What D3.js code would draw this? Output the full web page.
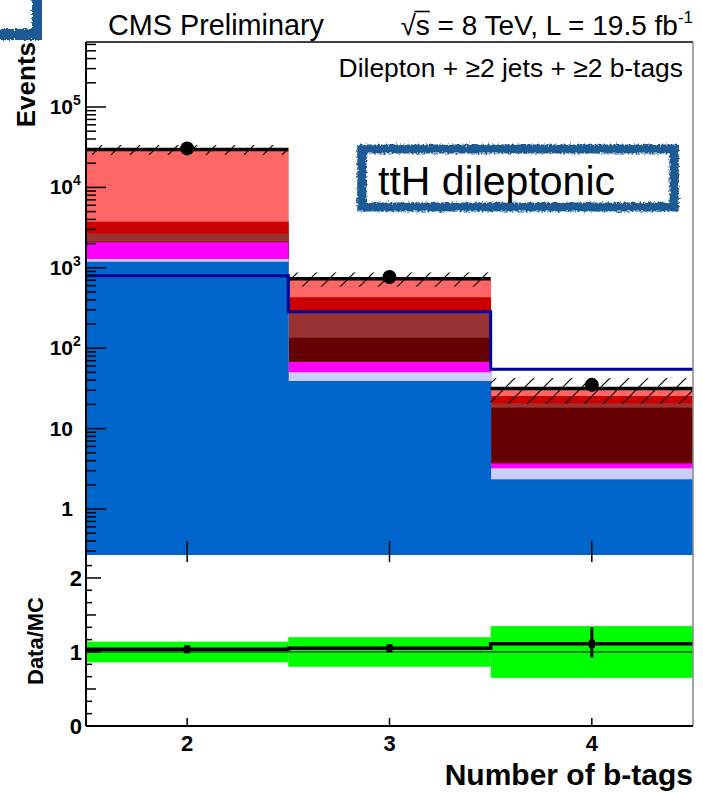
<!DOCTYPE html>
<html>
<head>
<meta charset="utf-8">
<script src="https://cdn.jsdelivr.net/npm/d3@7"></script>
<style>
  html, body { margin: 0; padding: 0; background: #fff; }
  svg { display: block; }
  text { font-family: "Liberation Sans", Arial, Helvetica, sans-serif; fill: #000; }
</style>
</head>
<body>
<svg id="chart" width="703" height="793"></svg>
<script>
// ---- data: b-tag multiplicity, dilepton channel ----
const binCenters = [2, 3, 4];

// background components, events per bin (stacked bottom to top)
const bgEwk       = [1190, 39.1, 2.34];
const bgTtV       = [96, 11.1, 0.87];
const bgSingleTop = [794, 17.2, 0.49];
const bgTtbb      = [30, 67.6, 14.5];
const bgTtb       = [550, 147, 2.4];
const bgTtcc      = [1080, 148, 4.8];
const bgTtlf      = [25760, 300, 6.1];

// scaled ttH signal, drawn as an outline
const signalScaled = [798, 284, 54.7];

// observed events and Poisson errors
const dataCounts  = [30560, 767, 35];
const dataErrUp   = [175, 28.7, 6.97];
const dataErrDown = [175, 27.7, 5.88];

// relative systematic uncertainty on the total background
const mcRelUnc = [0.14, 0.20, 0.35];

// axis tick definitions
const yExponents   = [0, 1, 2, 3, 4, 5];
const ratioMajor   = [0, 1, 2];
const xTickLabels  = ["2", "3", "4"];

const keys = ["ewk", "ttV", "singleTop", "ttbb", "ttb", "ttcc", "ttlf"];
const colors = {
  ewk: "#0066cc", ttV: "#ccccff", singleTop: "#ff00ff", ttbb: "#660000",
  ttb: "#993333", ttcc: "#cc0000", ttlf: "#ff6666"
};

// ---- layout ----
const L = 86, R = 693, TOP = 42, MID = 555, BOT = 726;
const svg = d3.select("#chart");

const x  = d3.scaleLinear().domain([1.5, 4.5]).range([L, R]);
const y  = d3.scaleLog().domain([0.268, 6.43e5]).range([MID, TOP]);
const yr = d3.scaleLinear().domain([0, 2.31]).range([BOT, MID]);

const defs = svg.append("defs");
defs.append("clipPath").attr("id", "clipMain")
  .append("rect").attr("x", L).attr("y", TOP).attr("width", R - L).attr("height", MID - TOP);
defs.append("clipPath").attr("id", "clipRatio")
  .append("rect").attr("x", L).attr("y", MID).attr("width", R - L).attr("height", BOT - MID);

const hatch = defs.append("pattern").attr("id", "hatch")
  .attr("patternUnits", "userSpaceOnUse").attr("width", 19).attr("height", 19);
hatch.append("path").attr("d", "M-2,2 L2,-2 M0,19 L19,0 M17,21 L21,17")
  .attr("stroke", "#000").attr("stroke-width", 1.2);

const brush = defs.append("filter").attr("id", "brush")
  .attr("x", "-10%").attr("y", "-30%").attr("width", "120%").attr("height", "160%");
brush.append("feTurbulence").attr("type", "fractalNoise")
  .attr("baseFrequency", "0.5 0.5").attr("numOctaves", 2).attr("seed", 7).attr("result", "noise");
brush.append("feDisplacementMap").attr("in", "SourceGraphic").attr("in2", "noise")
  .attr("scale", 6).attr("xChannelSelector", "R").attr("yChannelSelector", "G");

// ---- stacked backgrounds ----
const rows = binCenters.map((c, i) => ({
  bin: c, ewk: bgEwk[i], ttV: bgTtV[i], singleTop: bgSingleTop[i],
  ttbb: bgTtbb[i], ttb: bgTtb[i], ttcc: bgTtcc[i], ttlf: bgTtlf[i]
}));
const series = d3.stack().keys(keys)(rows);
const totals = rows.map(r => keys.reduce((s, k) => s + r[k], 0));

const main = svg.append("g").attr("clip-path", "url(#clipMain)");

// paint from the top layer down, each block reaching to the panel floor;
// a small overlap keeps neighbouring bins seamless
series.slice().reverse().forEach(s => {
  main.append("g").selectAll("rect").data(s).join("rect")
    .attr("x", d => x(d.data.bin - 0.5) - 0.4)
    .attr("width", d => x(d.data.bin + 0.5) - x(d.data.bin - 0.5) + 0.8)
    .attr("y", d => y(d[1]))
    .attr("height", d => MID - y(d[1]))
    .attr("fill", colors[s.key]);
});

// background uncertainty band
main.append("g").selectAll("rect").data(binCenters).join("rect")
  .attr("x", c => x(c - 0.5))
  .attr("width", c => x(c + 0.5) - x(c - 0.5))
  .attr("y", (c, i) => y(totals[i] * (1 + mcRelUnc[i])))
  .attr("height", (c, i) => y(totals[i] * (1 - mcRelUnc[i])) - y(totals[i] * (1 + mcRelUnc[i])))
  .attr("fill", "url(#hatch)");

// total background line
main.append("g").selectAll("line").data(binCenters).join("line")
  .attr("x1", c => x(c - 0.5)).attr("x2", c => x(c + 0.5))
  .attr("y1", (c, i) => y(totals[i])).attr("y2", (c, i) => y(totals[i]))
  .attr("stroke", "#000").attr("stroke-width", 3.5);

// signal outline
let sigPath = `M${x(1.5)},${y(signalScaled[0])}`;
binCenters.forEach((c, i) => {
  if (i > 0) sigPath += ` V${y(signalScaled[i])}`;
  sigPath += ` H${x(c + 0.5)}`;
});
main.append("path").attr("d", sigPath).attr("fill", "none")
  .attr("stroke", "#000099").attr("stroke-width", 3);

// data points
main.append("g").selectAll("line").data(binCenters).join("line")
  .attr("x1", c => x(c)).attr("x2", c => x(c))
  .attr("y1", (c, i) => y(dataCounts[i] + dataErrUp[i]))
  .attr("y2", (c, i) => y(dataCounts[i] - dataErrDown[i]))
  .attr("stroke", "#000").attr("stroke-width", 2.5);
main.append("g").selectAll("circle").data(binCenters).join("circle")
  .attr("cx", c => x(c)).attr("cy", (c, i) => y(dataCounts[i]))
  .attr("r", 7).attr("fill", "#000");

// ---- ratio panel ----
const ratio = svg.append("g").attr("clip-path", "url(#clipRatio)");
ratio.append("g").selectAll("rect").data(binCenters).join("rect")
  .attr("x", c => x(c - 0.5))
  .attr("width", c => x(c + 0.5) - x(c - 0.5))
  .attr("y", (c, i) => yr(1 + mcRelUnc[i]))
  .attr("height", (c, i) => yr(1 - mcRelUnc[i]) - yr(1 + mcRelUnc[i]))
  .attr("fill", "#00ff00");
ratio.append("line").attr("x1", L).attr("x2", R).attr("y1", yr(1)).attr("y2", yr(1))
  .attr("stroke", "#000").attr("stroke-width", 1);

const ratios = dataCounts.map((d, i) => d / totals[i]);
let ratioPath = `M${x(1.5)},${yr(ratios[0])}`;
binCenters.forEach((c, i) => {
  if (i > 0) ratioPath += ` V${yr(ratios[i])}`;
  ratioPath += ` H${x(c + 0.5)}`;
});
ratio.append("path").attr("d", ratioPath).attr("fill", "none")
  .attr("stroke", "#000").attr("stroke-width", 3.5);
ratio.append("g").selectAll("line").data(binCenters).join("line")
  .attr("x1", c => x(c)).attr("x2", c => x(c))
  .attr("y1", (c, i) => yr(ratios[i] + dataErrUp[i] / totals[i]))
  .attr("y2", (c, i) => yr(ratios[i] - dataErrDown[i] / totals[i]))
  .attr("stroke", "#000").attr("stroke-width", 3);
ratio.append("g").selectAll("rect").data(binCenters).join("rect")
  .attr("x", c => x(c) - 3).attr("y", (c, i) => yr(ratios[i]) - 4)
  .attr("width", 6).attr("height", 8).attr("fill", "#000");

// ---- axes and frame ----
const ax = svg.append("g").attr("stroke", "#000");

// main panel y ticks (log)
const [lo, hi] = y.domain();
for (let k = Math.floor(Math.log10(lo)); k <= Math.ceil(Math.log10(hi)); k++) {
  for (let m = 1; m <= 9; m++) {
    const v = m * Math.pow(10, k);
    if (v < lo || v > hi) continue;
    ax.append("line").attr("x1", L).attr("x2", L + (m === 1 ? 20 : 10))
      .attr("y1", y(v)).attr("y2", y(v)).attr("stroke-width", 1.5);
  }
}
// ratio panel y ticks
for (let i = 0; i * (1 / 6) <= 2.31 + 1e-9; i++) {
  const v = i / 6;
  const major = i % 6 === 0, medium = i % 3 === 0;
  ax.append("line").attr("x1", L).attr("x2", L + (major ? 15 : medium ? 10 : 6))
    .attr("y1", yr(v)).attr("y2", yr(v)).attr("stroke-width", 1.5);
}
// x ticks
binCenters.forEach(c => {
  ax.append("line").attr("x1", x(c)).attr("x2", x(c)).attr("y1", MID - 14).attr("y2", MID + 7)
    .attr("stroke-width", 1.5);
  ax.append("line").attr("x1", x(c)).attr("x2", x(c)).attr("y1", BOT - 8).attr("y2", BOT)
    .attr("stroke-width", 1.5);
});

// frame
svg.append("line").attr("x1", L).attr("x2", R).attr("y1", TOP).attr("y2", TOP)
  .attr("stroke", "#000").attr("stroke-width", 1.5);
svg.append("line").attr("x1", R).attr("x2", R).attr("y1", TOP).attr("y2", BOT)
  .attr("stroke", "#888").attr("stroke-width", 1.5);
svg.append("line").attr("x1", L).attr("x2", L).attr("y1", TOP).attr("y2", BOT)
  .attr("stroke", "#000").attr("stroke-width", 2);
svg.append("line").attr("x1", L).attr("x2", R).attr("y1", BOT).attr("y2", BOT)
  .attr("stroke", "#000").attr("stroke-width", 2);

// ---- labels ----
const yLab = svg.append("g").attr("font-weight", "bold");
yExponents.forEach(e => {
  const yy = y(Math.pow(10, e)) + 7;
  if (e === 0) {
    yLab.append("text").attr("x", 73).attr("y", yy).attr("text-anchor", "end")
      .attr("font-size", 21).text("1");
  } else {
    yLab.append("text").attr("x", 73).attr("y", yy).attr("text-anchor", "end")
      .attr("font-size", 21).text("10");
    if (e > 1) {
      yLab.append("text").attr("x", 73).attr("y", yy - 9)
        .attr("font-size", 14).text(String(e));
    }
  }
});
ratioMajor.forEach(v => {
  yLab.append("text").attr("x", 82).attr("y", yr(v) + 8).attr("text-anchor", "end")
    .attr("font-size", 22).text(String(v));
});
binCenters.forEach((c, i) => {
  yLab.append("text").attr("x", x(c)).attr("y", 751).attr("text-anchor", "middle")
    .attr("font-size", 22).text(xTickLabels[i]);
});

svg.append("text").attr("x", R).attr("y", 785).attr("text-anchor", "end")
  .attr("font-weight", "bold").attr("font-size", 30).text("Number of b-tags");
svg.append("text").attr("transform", "translate(35,42) rotate(-90)")
  .attr("text-anchor", "end").attr("font-weight", "bold").attr("font-size", 26).text("Events");
svg.append("text").attr("transform", "translate(43,641) rotate(-90)")
  .attr("text-anchor", "middle").attr("font-weight", "bold").attr("font-size", 22).text("Data/MC");

svg.append("text").attr("x", 108).attr("y", 35).attr("font-size", 28.8).text("CMS Preliminary");
const lumi = svg.append("text").attr("x", R).attr("y", 35).attr("text-anchor", "end")
  .attr("font-size", 28);
lumi.append("tspan").text("\u221As = 8 TeV, L = 19.5 fb");
lumi.append("tspan").attr("dy", -12).attr("font-size", 17).text("-1");
// radical overline across the "s"
const lumiNode = lumi.node();
const ext0 = lumiNode.getExtentOfChar(0), ext1 = lumiNode.getExtentOfChar(1);
svg.append("line")
  .attr("x1", ext0.x + ext0.width - 1.5).attr("x2", ext1.x + ext1.width)
  .attr("y1", 11.5).attr("y2", 11.5).attr("stroke", "#000").attr("stroke-width", 1.6);

svg.append("text").attr("x", 683).attr("y", 77).attr("text-anchor", "end")
  .attr("font-size", 26.4).text("Dilepton + \u22652 jets + \u22652 b-tags");

// ---- channel badge ----
const badge = svg.append("g").attr("filter", "url(#brush)");
badge.append("rect").attr("x", 362).attr("y", 149).attr("width", 312).attr("height", 58)
  .attr("fill", "none").attr("stroke", "#1c5a96").attr("stroke-width", 9);
badge.append("rect").attr("x", 358).attr("y", 146).attr("width", 320).attr("height", 63)
  .attr("fill", "none").attr("stroke", "#1c5a96").attr("stroke-width", 2).attr("opacity", 0.6);
svg.append("text").attr("x", 378).attr("y", 195)
  .attr("font-family", "Roboto, 'Open Sans', sans-serif").attr("font-weight", 300)
  .attr("font-size", 41).text("ttH dileptonic");

// corner bracket at the top left
svg.append("path").attr("d", "M37.5,-6 V34.5 H-6")
  .attr("fill", "none").attr("stroke", "#1c5a96").attr("stroke-width", 11)
  .attr("filter", "url(#brush)");
</script>
</body>
</html>
